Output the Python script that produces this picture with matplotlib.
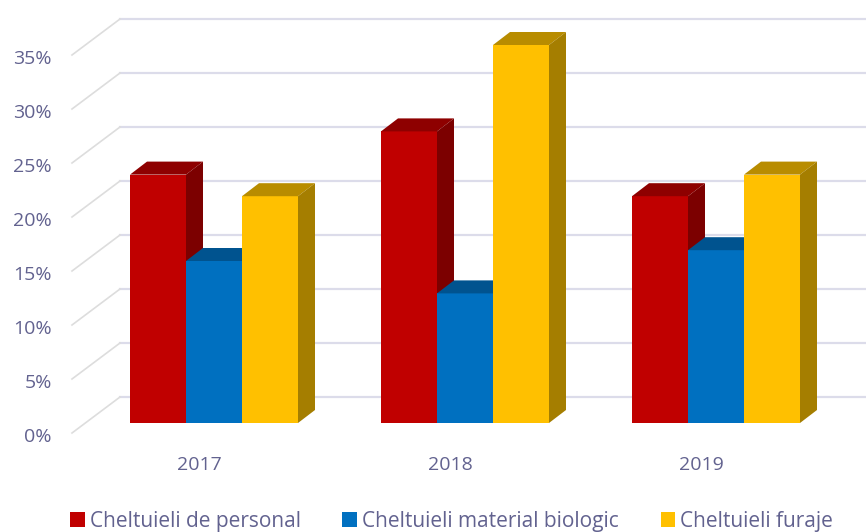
import matplotlib
matplotlib.use("Agg")
import matplotlib.pyplot as plt
from matplotlib.patches import Polygon
from matplotlib.transforms import ScaledTranslation

categories = ["2017", "2018", "2019"]
series_names = ["Cheltuieli de personal", "Cheltuieli material biologic", "Cheltuieli furaje"]
personal = [23, 27, 21]
biologic = [15, 12, 16]
furaje = [21, 35, 23]
y_ticks = [0, 5, 10, 15, 20, 25, 30, 35]

W, H = 866, 532
plt.rcParams["font.family"] = ["Open Sans", "DejaVu Sans"]
TXT = "#62628f"
fig = plt.figure(figsize=(W / 100, H / 100), dpi=100, facecolor="white")
L, B = 60, 447            # axes box in pixels, from the left and from the top
ax = fig.add_axes([L / W, (H - B) / H, (W - L) / W, B / H])

PX_X, PX_Y = 251.0, 10.8  # pixels per category step and per percentage point
X0, Y0 = 214.0, 423.0     # pixel position of the first category and of 0 %
ax.set_xlim((L - X0) / PX_X, (W - X0) / PX_X)
ax.set_ylim((Y0 - B) / PX_Y, Y0 / PX_Y)
for s in ax.spines.values():
    s.set_visible(False)
ax.patch.set_visible(False)

bar_w = 56 / PX_X
dx, dy = 17 / PX_X, 13 / PX_Y

# back wall with slanted side lines
wall_x = (120 - X0) / PX_X
wall_dy = (Y0 - 397) / PX_Y
front_x = (72 - X0) / PX_X
front_dy = (Y0 - 433) / PX_Y
for v in y_ticks:
    ax.plot([wall_x, ax.get_xlim()[1]], [v + wall_dy] * 2, color="#dcdcea", lw=1.6, zorder=1)
    ax.plot([front_x, wall_x], [v + front_dy, v + wall_dy], color="#dddddd", lw=1.2, zorder=1)

styles = [("#c00000", "#8e0000", "#7c0000"),
          ("#0070c0", "#00538f", "#004a80"),
          ("#ffc000", "#b88c00", "#a57e00")]
z = 2
for i in range(len(categories)):
    for j, vals in enumerate([personal, biologic, furaje]):
        x = i + (j - 1) * bar_w
        v = vals[i]
        front, top, side = styles[j]
        l, r = x - bar_w / 2, x + bar_w / 2
        ax.bar(x, v, width=bar_w, color=front, zorder=z,
               label=series_names[j] if i == 0 else None)
        ax.add_patch(Polygon([(l, v), (r, v), (r + dx, v + dy), (l + dx, v + dy)],
                             closed=True, fc=top, ec="none", zorder=z))
        ax.add_patch(Polygon([(r, 0), (r + dx, dy), (r + dx, v + dy), (r, v)],
                             closed=True, fc=side, ec="none", zorder=z))
        z += 1

ax.set_xticks([i - 15 / PX_X for i in range(len(categories))], categories)
ax.set_yticks(y_ticks, [f"{v}%" for v in y_ticks])
ax.tick_params(axis="both", length=0, labelcolor=TXT, labelsize=14)
ax.tick_params(axis="x", pad=6.5)
ax.tick_params(axis="y", pad=6)
shift = ScaledTranslation(0, -12 / 100, fig.dpi_scale_trans)
for lab in ax.get_yticklabels():
    lab.set_transform(lab.get_transform() + shift)

fig.legend(loc="center left", bbox_to_anchor=(70 / W, 1 - 521 / H), ncol=3, frameon=False,
           fontsize=15, labelcolor=TXT, handlelength=0.7, handleheight=0.7,
           handletextpad=0.25, columnspacing=2.0, borderpad=0, borderaxespad=0)
fig.savefig("out.png", dpi=100)
